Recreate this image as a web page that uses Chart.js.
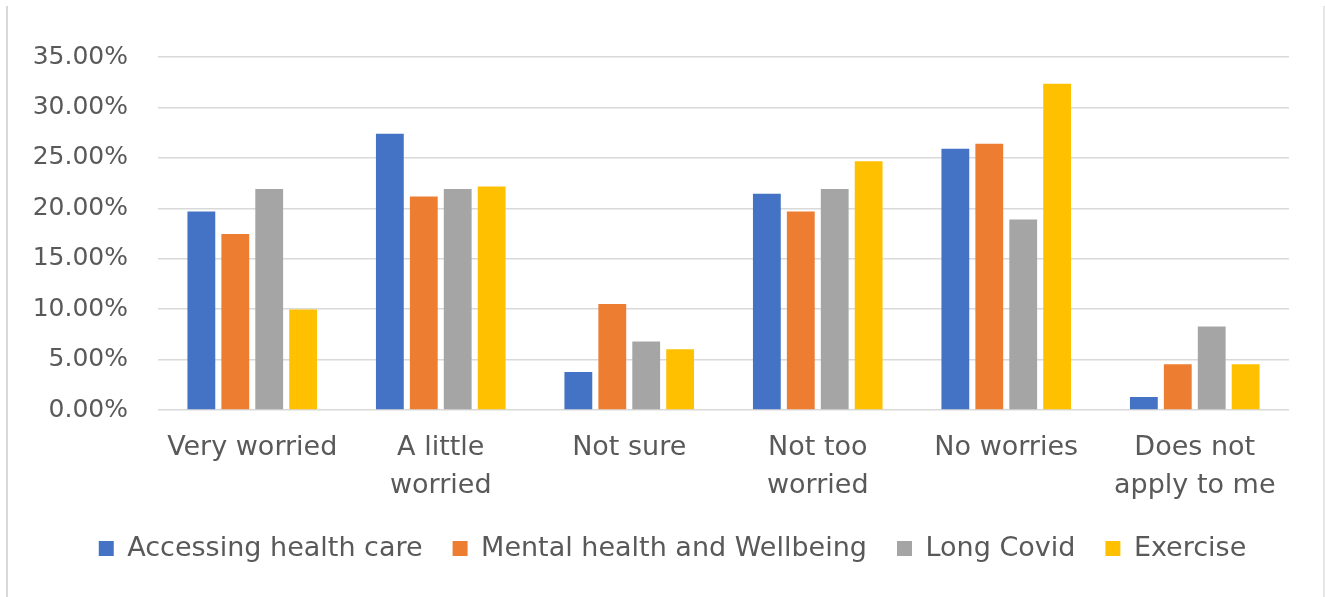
<!DOCTYPE html>
<html>
<head>
<meta charset="utf-8">
<script src="https://cdn.jsdelivr.net/npm/chart.js@4/dist/chart.umd.min.js"></script>
<style>
  html, body { margin: 0; padding: 0; background: #fff; }
  .frame { position: relative; width: 1325px; height: 597px; }
  .frame::before, .frame::after {
    content: ''; position: absolute; top: 6px; bottom: 0; width: 2px; background: #d9d9d9;
  }
  .frame::before { left: 6px; }
  .frame::after { right: 0; background: #e6e6e6; }
  canvas { display: block; }
</style>
</head>
<body>
<div class="frame">
  <canvas id="worries" width="1325" height="597"></canvas>
</div>
<script>
const categories = [
  'Very worried',
  ['A little', 'worried'],
  'Not sure',
  ['Not too', 'worried'],
  'No worries',
  ['Does not', 'apply to me']
]
const healthCare = [19.67, 27.39, 3.78, 21.43, 25.90, 1.29]
const mentalHealth = [17.45, 21.16, 10.50, 19.67, 26.39, 4.54]
const longCovid = [21.90, 21.90, 6.79, 21.92, 18.90, 8.28]
const exercise = [9.96, 22.15, 6.03, 24.67, 32.36, 4.54]
const yTicks = [0, 5, 10, 15, 20, 25, 30, 35]

const TEXT = '#595959'
const GRID = '#d9d9d9'
const FONT = 'DejaVu Sans'

const series = [
  { label: 'Accessing health care', data: healthCare, color: '#4472C4' },
  { label: 'Mental health and Wellbeing', data: mentalHealth, color: '#ED7D31' },
  { label: 'Long Covid', data: longCovid, color: '#A5A5A5' },
  { label: 'Exercise', data: exercise, color: '#FFC000' }
]

// nudge the legend row a little to the right of the canvas middle
const LEGEND_SHIFT = 13
const legendShift = {
  id: 'legendShift',
  afterUpdate(chart) {
    const lg = chart.legend
    if (!lg) return
    lg.left += LEGEND_SHIFT
    lg.right += LEGEND_SHIFT
    lg.adjustHitBoxes()
  }
}

const ctx = document.getElementById('worries').getContext('2d')

new Chart(ctx, {
  type: 'bar',
  data: {
    labels: categories,
    datasets: series.map(s => ({
      label: s.label,
      data: s.data,
      backgroundColor: s.color,
      borderWidth: 0,
      categoryPercentage: 0.72,
      barPercentage: 0.82
    }))
  },
  plugins: [legendShift],
  options: {
    responsive: false,
    animation: false,
    devicePixelRatio: 1,
    layout: { padding: { left: 30, right: 36, top: 57, bottom: 25 } },
    plugins: {
      tooltip: { enabled: false },
      legend: {
        position: 'bottom',
        labels: {
          color: TEXT,
          font: { family: FONT, size: 27 },
          boxWidth: 15,
          boxHeight: 15,
          padding: 30
        }
      }
    },
    scales: {
      x: {
        grid: { display: false },
        border: { display: false },
        ticks: {
          color: TEXT,
          font: { family: FONT, size: 27, lineHeight: 1.4 },
          padding: 11,
          maxRotation: 0,
          autoSkip: false
        },
        afterFit: scale => { scale.height = 95 }
      },
      y: {
        min: 0,
        max: 35,
        afterBuildTicks: scale => { scale.ticks = yTicks.map(v => ({ value: v })) },
        afterFit: scale => { scale.width = 128 },
        grid: { color: GRID, lineWidth: 1.5, drawTicks: false },
        border: { display: false },
        ticks: {
          color: TEXT,
          font: { family: FONT, size: 25 },
          padding: 30,
          callback: v => v.toFixed(2) + '%'
        }
      }
    }
  }
})
</script>
</body>
</html>
